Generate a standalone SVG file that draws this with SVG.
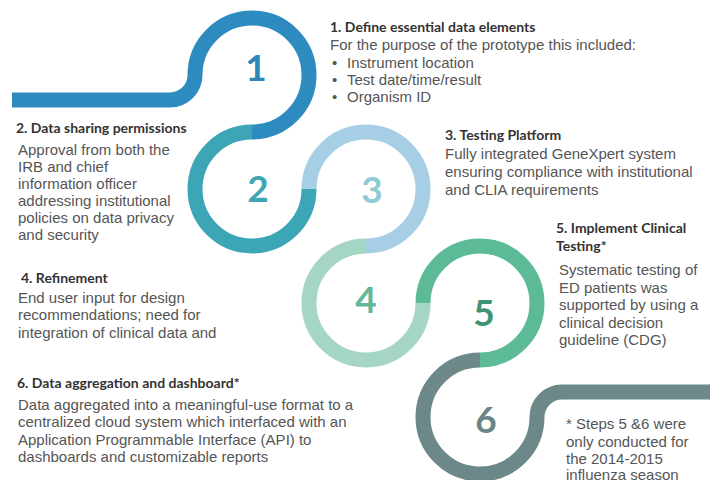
<svg xmlns="http://www.w3.org/2000/svg" width="714" height="480" viewBox="0 0 714 480">
<style>
.seg{fill:none;stroke-width:15;stroke-linecap:butt}
.num{font-family:Lato,"Open Sans",sans-serif;font-weight:700;font-size:37px;text-anchor:middle}
.h{font-family:Lato,"Liberation Sans",sans-serif;font-weight:700;font-size:14px;fill:#333}
.b{font-family:"Liberation Sans",Arial,sans-serif;font-size:15px;fill:#555}
</style>
<rect width="714" height="480" fill="#fff"/>
<g id="track">
<path class="seg" stroke="#2d8bbf" d="M12,100 H170 A25,25 0 0 0 195,75 A57,57 0 0 1 252,18 A57,57 0 0 1 309,75 A57,57 0 0 1 252,132"/>
<path class="seg" stroke="#3ca5b6" d="M252,132 A57,57 0 0 0 195,189 A57,57 0 0 0 252,246 A57,57 0 0 0 309,189"/>
<path class="seg" stroke="#a6cfe6" d="M309,189 A57,57 0 0 1 366,132 A57,57 0 0 1 423,189 A57,57 0 0 1 366,246"/>
<path class="seg" stroke="#a5d6c4" d="M366,246 A57,57 0 0 0 309,303 A57,57 0 0 0 366,360 A57,57 0 0 0 423,303"/>
<path class="seg" stroke="#5dba97" d="M423,303 A57,57 0 0 1 480,246 A57,57 0 0 1 537,303 A57,57 0 0 1 480,360"/>
<path class="seg" stroke="#6d8888" d="M480,360 A57,57 0 0 0 423,417 A57,57 0 0 0 480,474 A57,57 0 0 0 537,417 A25,25 0 0 1 562,392 H710"/>
</g>
<g id="step1">
<text class="num" x="256" y="81" fill="#2e87b8">1</text>
<text class="h" x="330" y="32">1. Define essential data elements</text>
<text class="b" x="330" y="50">For the purpose of the prototype this included:</text>
<text class="b" x="332" y="68">•</text><text class="b" x="347" y="68">Instrument location</text>
<text class="b" x="332" y="85">•</text><text class="b" x="347" y="85">Test date/time/result</text>
<text class="b" x="332" y="102">•</text><text class="b" x="347" y="102">Organism ID</text>
</g>
<g id="step2">
<text class="num" x="258" y="202" fill="#3fa6b6">2</text>
<text class="h" x="16" y="133">2. Data sharing permissions</text>
<text class="b" x="18" y="155">Approval from both the</text>
<text class="b" x="18" y="172">IRB and chief</text>
<text class="b" x="18" y="189">information officer</text>
<text class="b" x="18" y="206">addressing institutional</text>
<text class="b" x="18" y="223">policies on data privacy</text>
<text class="b" x="18" y="240">and security</text>
</g>
<g id="step3">
<text class="num" x="372" y="203" fill="#8fcbd2">3</text>
<text class="h" x="445" y="140">3. Testing Platform</text>
<text class="b" x="445" y="159">Fully integrated GeneXpert system</text>
<text class="b" x="445" y="177">ensuring compliance with institutional</text>
<text class="b" x="445" y="195">and CLIA requirements</text>
</g>
<g id="step4">
<text class="num" x="366" y="313" fill="#66b798">4</text>
<text class="h" x="21" y="283">4. Refinement</text>
<text class="b" x="18" y="303">End user input for design</text>
<text class="b" x="18" y="320">recommendations; need for</text>
<text class="b" x="18" y="338">integration of clinical data and</text>
</g>
<g id="step5">
<text class="num" x="484" y="326" fill="#3f9474">5</text>
<text class="h" x="556" y="233">5. Implement Clinical</text>
<text class="h" x="556" y="251">Testing*</text>
<text class="b" x="559" y="275">Systematic testing of</text>
<text class="b" x="559" y="293">ED patients was</text>
<text class="b" x="559" y="310">supported by using a</text>
<text class="b" x="559" y="328">clinical decision</text>
<text class="b" x="559" y="345">guideline (CDG)</text>
</g>
<g id="step6">
<text class="num" x="486" y="433" fill="#6a8585">6</text>
<text class="h" x="17" y="388">6. Data aggregation and dashboard*</text>
<text class="b" x="18" y="410">Data aggregated into a meaningful-use format to a</text>
<text class="b" x="18" y="427">centralized cloud system which interfaced with an</text>
<text class="b" x="18" y="445">Application Programmable Interface (API) to</text>
<text class="b" x="18" y="462">dashboards and customizable reports</text>
</g>
<g id="footnote">
<text class="b" x="566" y="429">* Steps 5 &amp;6 were</text>
<text class="b" x="566" y="447">only conducted for</text>
<text class="b" x="566" y="464">the 2014-2015</text>
<text class="b" x="566" y="480">influenza season</text>
</g>
</svg>
